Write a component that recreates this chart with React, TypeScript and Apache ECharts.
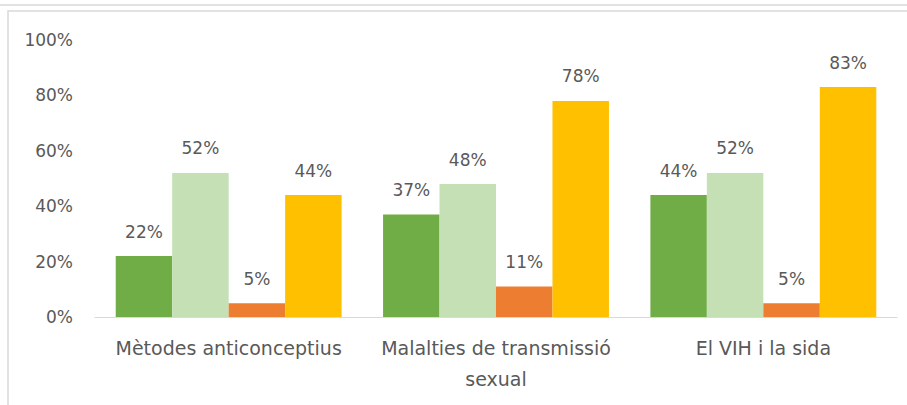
import React, { useEffect, useRef } from "react";
import * as echarts from "echarts";

const categories = ["Mètodes anticonceptius", "Malalties de transmissió\nsexual", "El VIH i la sida"];
const seriesA = [22, 37, 44];
const seriesB = [52, 48, 52];
const seriesC = [5, 11, 5];
const seriesD = [44, 78, 83];
const colors = ["#70AD47", "#C5E0B4", "#ED7D31", "#FFC000"];
const yTicks = [0, 20, 40, 60, 80, 100];

const FONT = "DejaVu Sans";
const TXT = "#595959";

export default function App() {
  const ref = useRef<HTMLDivElement>(null);
  useEffect(() => {
    if (!ref.current) return;
    const chart = echarts.init(ref.current, null, { renderer: "svg" });
    const mk = (name: string, data: number[], i: number) => ({
      name,
      type: "bar",
      data,
      barGap: "0%",
      barCategoryGap: "15.5%",
      itemStyle: { color: colors[i] },
      label: {
        show: true,
        position: "top",
        distance: 16,
        formatter: "{c}%",
        color: TXT,
        fontFamily: FONT,
        fontSize: 17,
      },
    });
    chart.setOption({
      animation: false,
      backgroundColor: "#ffffff",
      grid: { left: 95, right: 10, top: 40, bottom: 88, containLabel: false },
      xAxis: {
        type: "category",
        data: categories,
        axisTick: { show: false },
        axisLine: { lineStyle: { color: "#D9D9D9", width: 1.2 } },
        axisLabel: {
          color: TXT,
          fontFamily: FONT,
          fontSize: 19,
          lineHeight: 31,
          margin: 15,
          interval: 0,
        },
      },
      yAxis: {
        type: "value",
        min: yTicks[0],
        max: yTicks[yTicks.length - 1],
        interval: 20,
        splitLine: { show: false },
        axisLine: { show: false },
        axisTick: { show: false },
        axisLabel: {
          color: TXT,
          fontFamily: FONT,
          fontSize: 17,
          margin: 22,
          formatter: "{value}%",
        },
      },
      graphic: [
        {
          type: "rect",
          shape: { x: -10, y: -10, width: 930, height: 15 },
          style: { fill: "none", stroke: "#D9D9D9", lineWidth: 1.5 },
          silent: true,
        },
        {
          type: "rect",
          shape: { x: 8, y: 11, width: 920, height: 420 },
          style: { fill: "none", stroke: "#D9D9D9", lineWidth: 1.5 },
          silent: true,
        },
      ],
      series: [
        mk("A", seriesA, 0),
        mk("B", seriesB, 1),
        mk("C", seriesC, 2),
        mk("D", seriesD, 3),
      ],
    });
    return () => chart.dispose();
  }, []);
  return (
    <div style={{ position: "absolute", left: 0, top: 0 }}>
      <div ref={ref} style={{ width: 907, height: 405 }} />
    </div>
  );
}
